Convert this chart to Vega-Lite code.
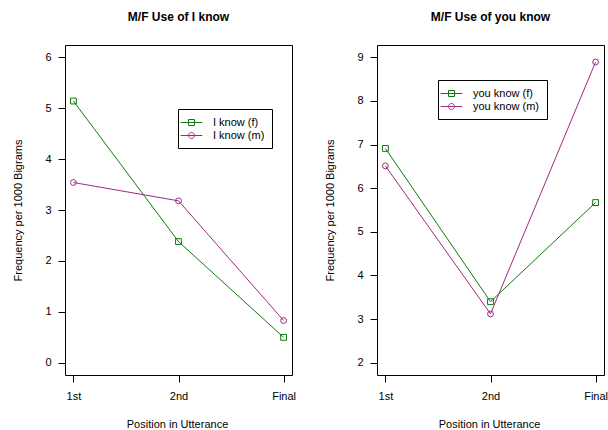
{
  "$schema": "https://vega.github.io/schema/vega-lite/v6.json",
  "autosize": {"type": "none"},
  "padding": {"left": 65, "top": 45, "right": 543, "bottom": 385},
  "background": "white",
  "datasets": {
    "iknow": [
      {"pos": 1, "series": "I know (f)", "freq": 5.14},
      {"pos": 2, "series": "I know (f)", "freq": 2.38},
      {"pos": 3, "series": "I know (f)", "freq": 0.50},
      {"pos": 1, "series": "I know (m)", "freq": 3.54},
      {"pos": 2, "series": "I know (m)", "freq": 3.18},
      {"pos": 3, "series": "I know (m)", "freq": 0.83}
    ],
    "youknow": [
      {"pos": 1, "series": "you know (f)", "freq": 6.91},
      {"pos": 2, "series": "you know (f)", "freq": 3.40},
      {"pos": 3, "series": "you know (f)", "freq": 5.67},
      {"pos": 1, "series": "you know (m)", "freq": 6.51},
      {"pos": 2, "series": "you know (m)", "freq": 3.12},
      {"pos": 3, "series": "you know (m)", "freq": 8.89}
    ]
  },
  "config": {
    "font": "Liberation Sans",
    "view": {"stroke": "black", "strokeWidth": 1},
    "axis": {
      "grid": false,
      "domain": false,
      "tickColor": "black",
      "tickSize": 7,
      "tickWidth": 1,
      "labelColor": "black",
      "labelFontSize": 11,
      "titleColor": "black",
      "titleFontSize": 11,
      "titleFontWeight": "normal"
    },
    "title": {"fontSize": 12, "fontWeight": "bold", "color": "black", "offset": 21, "anchor": "middle"},
    "legend": {
      "strokeColor": "black",
      "fillColor": "white",
      "padding": 7,
      "labelFontSize": 11,
      "labelColor": "black",
      "labelOffset": 15,
      "symbolSize": 144,
      "symbolStrokeWidth": 1,
      "symbolFillColor": "transparent",
      "symbolOpacity": 1,
      "rowPadding": 1,
      "orient": "none"
    }
  },
  "spacing": 85,
  "bounds": "flush",
  "resolve": {
    "scale": {"color": "independent", "shape": "independent"},
    "legend": {"color": "independent", "shape": "independent"}
  },
  "hconcat": [
    {
      "title": "M/F Use of I know",
      "width": 227,
      "height": 330,
      "data": {"name": "iknow"},
      "encoding": {
        "x": {
          "field": "pos",
          "type": "quantitative",
          "scale": {"domain": [0.92, 3.08], "nice": false, "zero": false},
          "axis": {
            "values": [1, 2, 3],
            "labelExpr": "datum.value == 1 ? '1st' : datum.value == 2 ? '2nd' : 'Final'",
            "labelBaseline": "middle",
            "labelPadding": 14,
            "title": "Position in Utterance",
            "titleX": 112,
            "titleY": 49,
            "titleBaseline": "middle"
          }
        },
        "y": {
          "field": "freq",
          "type": "quantitative",
          "scale": {"domain": [-0.24, 6.24], "nice": false, "zero": false},
          "axis": {
            "values": [0, 1, 2, 3, 4, 5, 6],
            "labelPadding": 7,
            "title": "Frequency per 1000 Bigrams",
            "titleX": -47,
            "titleY": 165,
            "titleAngle": -90,
            "titleAlign": "center",
            "titleBaseline": "middle"
          }
        },
        "color": {
          "field": "series",
          "type": "nominal",
          "scale": {"domain": ["I know (f)", "I know (m)"], "range": ["#0f7a0f", "#a0287e"]},
          "legend": {"title": null, "legendX": 113, "legendY": 64}
        }
      },
      "layer": [
        {
          "mark": {"type": "line", "strokeWidth": 1}
        },
        {
          "transform": [{"filter": "datum.series == 'I know (f)'"}],
          "mark": {"type": "point", "shape": "square", "filled": false, "size": 34, "strokeWidth": 1, "opacity": 1}
        },
        {
          "transform": [{"filter": "datum.series == 'I know (m)'"}],
          "mark": {"type": "point", "shape": "circle", "filled": false, "size": 34, "strokeWidth": 1, "opacity": 1}
        },
        {
          "mark": {"type": "point", "filled": false, "opacity": 0},
          "encoding": {
            "shape": {
              "field": "series",
              "type": "nominal",
              "scale": {
                "domain": ["I know (f)", "I know (m)"],
                "range": [
                  "M-1.8,0H1.8M-0.5,-0.5H0.5V0.5H-0.5Z",
                  "M-1.8,0H1.8M-0.5,0A0.5,0.5,0,1,0,0.5,0A0.5,0.5,0,1,0,-0.5,0"
                ]
              },
              "legend": {"title": null, "legendX": 113, "legendY": 64}
            }
          }
        }
      ]
    },
    {
      "title": "M/F Use of you know",
      "width": 227,
      "height": 330,
      "data": {"name": "youknow"},
      "encoding": {
        "x": {
          "field": "pos",
          "type": "quantitative",
          "scale": {"domain": [0.92, 3.08], "nice": false, "zero": false},
          "axis": {
            "values": [1, 2, 3],
            "labelExpr": "datum.value == 1 ? '1st' : datum.value == 2 ? '2nd' : 'Final'",
            "labelBaseline": "middle",
            "labelPadding": 14,
            "title": "Position in Utterance",
            "titleX": 112,
            "titleY": 49,
            "titleBaseline": "middle"
          }
        },
        "y": {
          "field": "freq",
          "type": "quantitative",
          "scale": {"domain": [1.72, 9.28], "nice": false, "zero": false},
          "axis": {
            "values": [2, 3, 4, 5, 6, 7, 8, 9],
            "labelPadding": 7,
            "title": "Frequency per 1000 Bigrams",
            "titleX": -47,
            "titleY": 165,
            "titleAngle": -90,
            "titleAlign": "center",
            "titleBaseline": "middle"
          }
        },
        "color": {
          "field": "series",
          "type": "nominal",
          "scale": {"domain": ["you know (f)", "you know (m)"], "range": ["#0f7a0f", "#a0287e"]},
          "legend": {"title": null, "legendX": 61, "legendY": 35}
        }
      },
      "layer": [
        {
          "mark": {"type": "line", "strokeWidth": 1}
        },
        {
          "transform": [{"filter": "datum.series == 'you know (f)'"}],
          "mark": {"type": "point", "shape": "square", "filled": false, "size": 34, "strokeWidth": 1, "opacity": 1}
        },
        {
          "transform": [{"filter": "datum.series == 'you know (m)'"}],
          "mark": {"type": "point", "shape": "circle", "filled": false, "size": 34, "strokeWidth": 1, "opacity": 1}
        },
        {
          "mark": {"type": "point", "filled": false, "opacity": 0},
          "encoding": {
            "shape": {
              "field": "series",
              "type": "nominal",
              "scale": {
                "domain": ["you know (f)", "you know (m)"],
                "range": [
                  "M-1.8,0H1.8M-0.5,-0.5H0.5V0.5H-0.5Z",
                  "M-1.8,0H1.8M-0.5,0A0.5,0.5,0,1,0,0.5,0A0.5,0.5,0,1,0,-0.5,0"
                ]
              },
              "legend": {"title": null, "legendX": 61, "legendY": 35}
            }
          }
        }
      ]
    }
  ]
}
